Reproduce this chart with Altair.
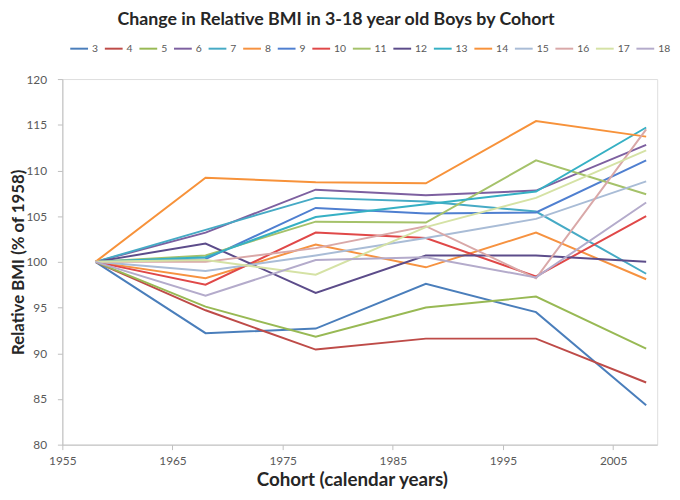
import altair as alt
import pandas as pd

years = [1958, 1968, 1978, 1988, 1998, 2008]
cohorts = ["3", "4", "5", "6", "7", "8", "9", "10", "11", "12", "13", "14", "15", "16", "17", "18"]

s3 = [100, 92.2, 92.7, 97.6, 94.5, 84.3]
s4 = [100, 94.7, 90.4, 91.6, 91.6, 86.8]
s5 = [100, 95.1, 91.8, 95.0, 96.2, 90.5]
s6 = [100, 103.2, 107.9, 107.3, 107.8, 112.8]
s7 = [100, 103.5, 107.0, 106.6, 105.5, 98.7]
s8 = [100, 98.2, 101.9, 99.4, 103.2, 98.1]
s9 = [100, 100.3, 105.9, 105.3, 105.4, 111.1]
s10 = [100, 97.5, 103.2, 102.6, 98.4, 105.0]
s11 = [100, 100.7, 104.4, 104.3, 111.1, 107.4]
s12 = [100, 102.0, 96.6, 100.7, 100.7, 100.0]
s13 = [100, 100.5, 104.9, 106.3, 107.7, 114.7]
s14 = [100, 109.2, 108.7, 108.6, 115.4, 113.7]
s15 = [100, 99.0, 100.7, 102.6, 104.7, 108.8]
s16 = [100, 100.0, 101.5, 103.9, 98.2, 114.5]
s17 = [100, 100.2, 98.6, 103.8, 107.0, 112.2]
s18 = [100, 96.3, 100.2, 100.5, 98.3, 106.5]

series = [s3, s4, s5, s6, s7, s8, s9, s10, s11, s12, s13, s14, s15, s16, s17, s18]

colors = ["#4A7EBB", "#BE4B48", "#98B954", "#7D60A0", "#46AAC5", "#F69240",
          "#4F7FD0", "#E04848", "#A5C26A", "#5C4C8A", "#36B0C4", "#F7923A",
          "#A9BCD6", "#D9A8A8", "#D5E2A5", "#B4ABCB"]

x_ticks = [1955, 1965, 1975, 1985, 1995, 2005]
y_ticks = [80, 85, 90, 95, 100, 105, 110, 115, 120]

rows = []
for c, vals in zip(cohorts, series):
    for yr, v in zip(years, vals):
        rows.append({"cohort": c, "year": yr, "bmi": v, "order": cohorts.index(c)})
df = pd.DataFrame(rows)

FONT = "Lato"

lines = alt.Chart(df).mark_line(strokeWidth=2).encode(
    x=alt.X("year:Q", scale=alt.Scale(domain=[1955, 2009], nice=False, zero=False),
            axis=alt.Axis(values=x_ticks, format="d", title="Cohort (calendar years)",
                          grid=False, domainColor="#bfbfbf", tickColor="#bfbfbf",
                          tickSize=5, labelPadding=6, labelFontSize=12, labelFlush=False,
                          labelColor="#595959", titleFontSize=19, titleFontWeight="bold",
                          titleColor="#262626", titlePadding=4, titleX=293,
                          labelFont=FONT, titleFont=FONT)),
    y=alt.Y("bmi:Q", scale=alt.Scale(domain=[80, 120], nice=False, zero=False),
            axis=alt.Axis(values=y_ticks, title="Relative BMI (% of 1958)",
                          grid=False, domainColor="#bfbfbf", tickColor="#bfbfbf",
                          tickSize=5, labelPadding=11, labelFontSize=12, labelFlush=False,
                          labelColor="#595959", titleFontSize=17, titleFontWeight="bold",
                          titleColor="#262626", titleX=-35, labelFont=FONT, titleFont=FONT)),
    color=alt.Color("cohort:N", scale=alt.Scale(domain=cohorts, range=colors),
                    sort=cohorts,
                    legend=alt.Legend(title=None, orient="none", legendX=7, legendY=-41,
                                      direction="horizontal", columns=16,
                                      symbolType="stroke", symbolSize=324,
                                      symbolStrokeWidth=2, labelOffset=3,
                                      columnPadding=2, labelFontSize=10.5,
                                      labelColor="#595959", labelFont=FONT)),
    detail="cohort:N",
    order="order:Q",
)

chart = lines.properties(
    width=602, height=370,
    autosize=alt.AutoSizeParams(type="none"),
    padding={"left": 55, "top": 69, "right": 15, "bottom": 45},
    title=alt.TitleParams("Change in Relative BMI in 3-18 year old Boys by Cohort",
                          fontSize=18, fontWeight="bold", color="#262626", font=FONT,
                          anchor="middle", frame="group", offset=10, dx=-24),
).configure_view(stroke=None).configure(background="white")

chart.save("out.html", embed_options={"renderer": "svg", "actions": False})
